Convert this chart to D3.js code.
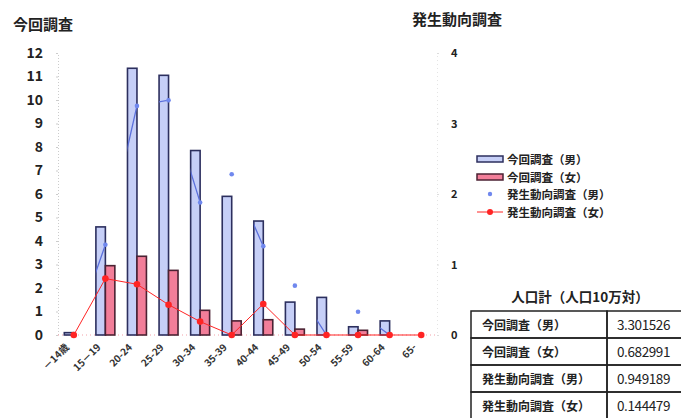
<!DOCTYPE html>
<html>
<head>
<meta charset="utf-8">
<script src="https://cdn.jsdelivr.net/npm/d3@7/dist/d3.min.js"></script>
<style>
  html, body { margin: 0; padding: 0; background: #fff; }
  svg { display: block; }
  text { font-family: "Noto Sans CJK JP", "Liberation Sans", sans-serif; }
</style>
</head>
<body>
<svg id="chart" width="681" height="418"></svg>
<script>
// Age groups and the four series (rate per 100,000)
const categories = ["－14歳", "15－19", "20-24", "25-29", "30-34", "35-39", "40-44", "45-49", "50-54", "55-59", "60-64", "65-"];
const currentMale   = [0.1, 4.6, 11.35, 11.05, 7.85, 5.9, 4.85, 1.4, 1.6, 0.35, 0.6, 0];
const currentFemale = [0, 2.95, 3.35, 2.75, 1.05, 0.6, 0.65, 0.25, 0, 0.2, 0, 0];
const trendMale     = [0, 1.28, 3.25, 3.33, 1.88, 2.28, 1.26, 0.70, 0, 0.33, 0, 0];
const trendFemale   = [0, 0.80, 0.72, 0.43, 0.19, 0, 0.44, 0, 0, 0, 0, 0];

const leftTicks  = [0, 1, 2, 3, 4, 5, 6, 7, 8, 9, 10, 11, 12];
const rightTicks = [0, 1, 2, 3, 4];

const legendLabels = ["今回調査（男）", "今回調査（女）", "発生動向調査（男）", "発生動向調査（女）"];
const tableTitle = "人口計（人口10万対）";
const tableLabels = ["今回調査（男）", "今回調査（女）", "発生動向調査（男）", "発生動向調査（女）"];
const tableValues = ["3.301526", "0.682991", "0.949189", "0.144479"];

const BLUE_FILL = "#c6cff7", BLUE_EDGE = "#2c2f5e";
const PINK_FILL = "#f27e99", PINK_EDGE = "#4b2233";
const RED = "#ff2424", BLUE_PT = "#7088ee";

const svg = d3.select("#chart");
const plotL = 58, plotR = 437, plotT = 53, plotB = 335;

const x = d3.scaleBand().domain(categories).range([plotL, plotR]).paddingInner(0).paddingOuter(0);
const yL = d3.scaleLinear().domain([0, 12]).range([plotB, plotT]);
const yR = d3.scaleLinear().domain([0, 4]).range([plotB, plotT]);
const cx = c => x(c) + x.bandwidth() / 2;
const barW = x.bandwidth() * 0.3;

// Axis titles
svg.append("text").attr("x", 13).attr("y", 30).attr("font-size", 15).attr("font-weight", 700)
  .attr("fill", "#222").text("今回調査");
svg.append("text").attr("x", 412).attr("y", 25).attr("font-size", 15).attr("font-weight", 700)
  .attr("fill", "#222").text("発生動向調査");

// Left axis
const gL = svg.append("g").attr("transform", `translate(${plotL},0)`)
  .call(d3.axisLeft(yL).tickValues(leftTicks).tickSize(2).tickPadding(13).tickFormat(d3.format("d")));
gL.select(".domain").attr("stroke", "#ccc").attr("stroke-dasharray", "1,2");
gL.selectAll(".tick line").attr("stroke", "#ccc");
gL.selectAll(".tick text").attr("font-size", 14).attr("font-weight", 700).attr("fill", "#222")
  .attr("font-family", "Liberation Sans, Arial, sans-serif");

// Right axis
const gR = svg.append("g").attr("transform", `translate(${plotR},0)`)
  .call(d3.axisRight(yR).tickValues(rightTicks).tickSize(2).tickPadding(12).tickFormat(d3.format("d")));
gR.select(".domain").attr("stroke", "#e4e4e4").attr("stroke-dasharray", "1,3");
gR.selectAll(".tick line").attr("stroke", "#ddd");
gR.selectAll(".tick text").attr("font-size", 11).attr("font-weight", 700).attr("fill", "#222")
  .attr("font-family", "Liberation Sans, Arial, sans-serif");

// Baseline
svg.append("line").attr("x1", plotL).attr("x2", plotR).attr("y1", yL(0)).attr("y2", yL(0))
  .attr("stroke", "#f3a0a8").attr("stroke-dasharray", "1,3");

// Category labels
svg.append("g").selectAll("text").data(categories).join("text")
  .attr("transform", d => `translate(${cx(d) - 4},${plotB + 13}) rotate(-45)`)
  .attr("text-anchor", "end").attr("font-size", 10).attr("font-weight", 700).attr("fill", "#333")
  .text(d => d);

// Bars
const bars = svg.append("g");
bars.selectAll("rect.m").data(categories).join("rect").attr("class", "m")
  .attr("x", d => cx(d) - barW).attr("width", barW)
  .attr("y", (d, i) => yL(currentMale[i])).attr("height", (d, i) => yL(0) - yL(currentMale[i]))
  .attr("fill", BLUE_FILL).attr("stroke", BLUE_EDGE).attr("stroke-width", 1.6);
bars.selectAll("rect.f").data(categories).join("rect").attr("class", "f")
  .attr("x", d => cx(d)).attr("width", barW)
  .attr("y", (d, i) => yL(currentFemale[i])).attr("height", (d, i) => yL(0) - yL(currentFemale[i]))
  .attr("fill", PINK_FILL).attr("stroke", PINK_EDGE).attr("stroke-width", 1.6)
  .attr("display", (d, i) => currentFemale[i] > 0 ? null : "none");

// The male trend line only shows up across the male bars
const clip = svg.append("defs").append("clipPath").attr("id", "maleBars");
clip.selectAll("rect").data(categories).join("rect")
  .attr("x", d => cx(d) - barW).attr("width", barW)
  .attr("y", (d, i) => yL(currentMale[i])).attr("height", (d, i) => yL(0) - yL(currentMale[i]));

const lineM = d3.line().x((d, i) => cx(categories[i])).y(d => yR(d));
svg.append("path").datum(trendMale).attr("d", lineM).attr("fill", "none")
  .attr("stroke", "#5b70dc").attr("stroke-width", 1.3).attr("clip-path", "url(#maleBars)");

// Female trend line
svg.append("path").datum(trendFemale).attr("d", lineM).attr("fill", "none")
  .attr("stroke", RED).attr("stroke-width", 1);

svg.append("g").selectAll("circle").data(trendMale).join("circle")
  .attr("cx", (d, i) => cx(categories[i])).attr("cy", d => yR(d)).attr("r", 2.3)
  .attr("fill", BLUE_PT);
svg.append("g").selectAll("circle").data(trendFemale).join("circle")
  .attr("cx", (d, i) => cx(categories[i])).attr("cy", d => yR(d)).attr("r", 3.3)
  .attr("fill", RED);

// Legend
const lg = svg.append("g");
const rowY = [159, 177, 194, 212];
legendLabels.forEach((lab, i) => {
  const y = rowY[i];
  if (i === 0 || i === 1) {
    lg.append("rect").attr("x", 477).attr("y", y - 3).attr("width", 26).attr("height", 6)
      .attr("fill", i === 0 ? BLUE_FILL : PINK_FILL).attr("stroke", i === 0 ? BLUE_EDGE : PINK_EDGE)
      .attr("stroke-width", 1.5);
  } else if (i === 2) {
    lg.append("circle").attr("cx", 490).attr("cy", y).attr("r", 2.2).attr("fill", BLUE_PT);
  } else {
    lg.append("line").attr("x1", 477).attr("x2", 503).attr("y1", y).attr("y2", y)
      .attr("stroke", RED).attr("stroke-width", 1);
    lg.append("circle").attr("cx", 490).attr("cy", y).attr("r", 3).attr("fill", RED);
  }
  lg.append("text").attr("x", 507).attr("y", y + 4.5).attr("font-size", 11.5).attr("font-weight", 700)
    .attr("fill", "#222").text(lab);
});

// Summary table
const tb = svg.append("g");
tb.append("text").attr("x", 580).attr("y", 302).attr("text-anchor", "middle")
  .attr("font-size", 13.5).attr("font-weight", 700).attr("fill", "#222").text(tableTitle);
const tL = 471, tM = 607, tR = 690, tT = 311, rowH = 27;
tableLabels.forEach((lab, i) => {
  const y0 = tT + i * rowH;
  tb.append("rect").attr("x", tL).attr("y", y0).attr("width", tM - tL).attr("height", rowH)
    .attr("fill", "none").attr("stroke", "#222").attr("stroke-width", 1.5);
  tb.append("rect").attr("x", tM).attr("y", y0).attr("width", tR - tM).attr("height", rowH)
    .attr("fill", "none").attr("stroke", "#222").attr("stroke-width", 1.5);
  tb.append("text").attr("x", 482).attr("y", y0 + 19).attr("font-size", 12).attr("font-weight", 700)
    .attr("fill", "#222").text(lab);
  tb.append("text").attr("x", 617).attr("y", y0 + 19).attr("font-size", 13.5)
    .attr("font-family", "Liberation Sans, Arial, sans-serif").attr("letter-spacing", -0.4)
    .attr("fill", "#222").text(tableValues[i]);
});
</script>
</body>
</html>
